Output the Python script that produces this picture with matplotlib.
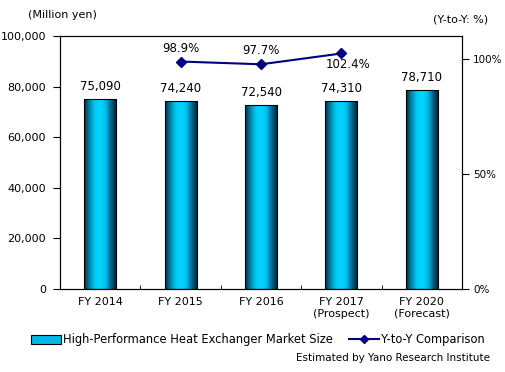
import numpy as np
import matplotlib.pyplot as plt
from matplotlib.colors import LinearSegmentedColormap
from matplotlib.lines import Line2D
from matplotlib.patches import Patch

categories = ["FY 2014", "FY 2015", "FY 2016", "FY 2017\n(Prospect)", "FY 2020\n(Forecast)"]
market_size = [75090, 74240, 72540, 74310, 78710]
yoy_idx = [1, 2, 3]
yoy = [98.9, 97.7, 102.4]

plt.rcParams['font.family'] = ['DejaVu Sans']
fs = 8

fig = plt.figure(figsize=(5.06, 3.72), dpi=100)
ax = fig.add_axes([60/506, 1 - 289/372, 402/506, 253/372])
ax2 = ax.twinx()

x = np.arange(len(categories))
bars = ax.bar(x, market_size, width=0.4, color='none', edgecolor='black', linewidth=0.8, zorder=3)

cmap = LinearSegmentedColormap.from_list(
    'cyl', ['#002f40', '#0088b0', '#00ccf5', '#00d8ff', '#00b8e8', '#005f80', '#00222e'])
grad = np.linspace(0, 1, 64).reshape(1, -1)
for b in bars:
    x0, y0 = b.get_x(), b.get_y()
    w, h = b.get_width(), b.get_height()
    im = ax.imshow(grad, cmap=cmap, aspect='auto', extent=[x0, x0 + w, y0, y0 + h], zorder=2)
    im.set_clip_path(b)

for xi, v in zip(x, market_size):
    ax.text(xi, v + 2500, f"{v:,}", ha='center', va='bottom', fontsize=8.5)

ax.set_xlim(-0.5, len(categories) - 0.5)
ax.set_ylim(0, 100000)
ax.set_yticks(np.arange(0, 100001, 20000))
ax.set_yticklabels([f"{v:,}" for v in range(0, 100001, 20000)], fontsize=fs)
ax.set_xticks(x)
ax.set_xticklabels(categories, fontsize=fs)
ax.set_xticks(np.arange(0.5, len(categories) - 1, 1), minor=True)
ax.tick_params(axis='x', which='major', length=0, pad=6)
ax.tick_params(axis='x', which='minor', length=3, direction='in')
ax.tick_params(axis='y', length=5, direction='out', pad=5)

ax2.plot(yoy_idx, yoy, color='#000080', marker='D', markersize=5, linewidth=1.5, zorder=5)
ax2.set_ylim(0, 110)
ax2.set_yticks([0, 50, 100])
ax2.set_yticklabels(["0%", "50%", "100%"], fontsize=7.5)
ax2.tick_params(axis='y', length=5, direction='out', pad=3)
lbl_off = {1: (0, 6, 'bottom'), 2: (0, 6, 'bottom'), 3: (0.08, -4, 'top')}
for xi, v in zip(yoy_idx, yoy):
    dx, dy, va = lbl_off[xi]
    ax2.text(xi + dx, v + dy * 0.5, f"{v}%", ha='center', va=va, fontsize=8.5)

for a in (ax, ax2):
    for s in a.spines.values():
        s.set_color('black')
        s.set_linewidth(0.8)

fig.text(28/506, 1 - 15/372, "(Million yen)", fontsize=fs, va='center')
fig.text(433/506, 1 - 20/372, "(Y-to-Y: %)", fontsize=fs, va='center')

handles = [Patch(facecolor='#00b8e8', edgecolor='black', linewidth=0.8),
           Line2D([0], [0], color='#000080', marker='D', markersize=4, linewidth=1.5)]
fig.legend(handles, ["High-Performance Heat Exchanger Market Size", "Y-to-Y Comparison"],
           loc='center', bbox_to_anchor=(258/506, 1 - 340/372), ncol=2, frameon=False,
           fontsize=8.3, handlelength=2.6, handletextpad=0.2, columnspacing=1.4)
fig.text(490/506, 1 - 358/372, "Estimated by Yano Research Institute", fontsize=7.5, ha='right', va='center')

fig.savefig('out.png', dpi=100)
